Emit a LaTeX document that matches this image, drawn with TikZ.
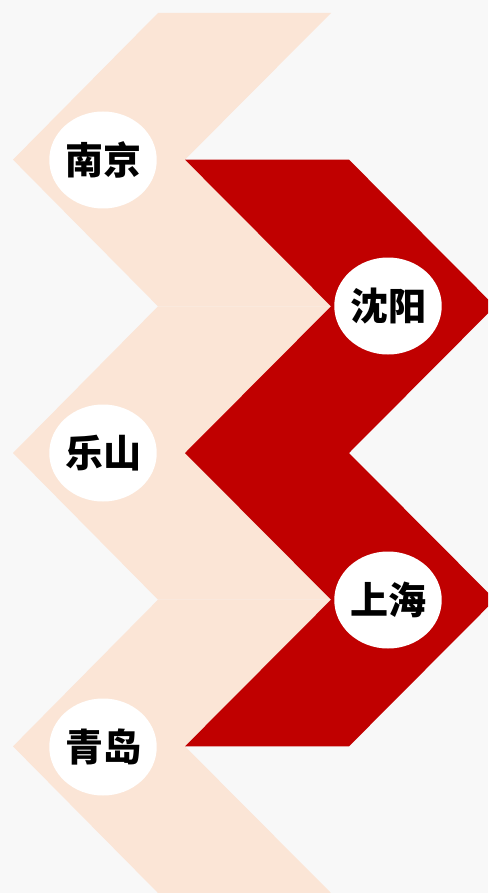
\documentclass[tikz,border=0pt]{standalone}
\usepackage{fontspec}
\newfontfamily\cjk{Noto Sans CJK SC}
\usetikzlibrary{shapes.geometric}
\definecolor{bgc}{HTML}{F8F8F8}
\definecolor{peach}{HTML}{FBE5D6}
\definecolor{redc}{HTML}{C00000}
\tikzset{
  peachshape/.style={fill=peach, draw=none},
  redshape/.style={fill=redc, draw=none},
  city/.style={ellipse, fill=white, draw=none, minimum width=106pt, minimum height=97pt, inner sep=0pt,
    font=\cjk\bfseries\fontsize{38}{38}\selectfont, text=black}
}
\begin{document}
\begin{tikzpicture}[x=1pt,y=-1pt]
\fill[bgc] (0,0) rectangle (488,893);
\useasboundingbox (0,0) rectangle (488,893);
\clip (0,0) rectangle (488,893);
% peach chevrons (pointing left)
\foreach \y in {13,306.33,599.67}{
  \fill[peachshape] (158,\y) -- (331,\y) -- (185,\y+146.67) -- (331,\y+293.33) -- (158,\y+293.33) -- (13,\y+146.67) -- cycle;
}
% red chevrons (pointing right)
\foreach \y in {159.67,453}{
  \fill[redshape] (185,\y) -- (349,\y) -- (495,\y+146.67) -- (349,\y+293.33) -- (185,\y+293.33) -- (331,\y+146.67) -- cycle;
}
\node[city] (nanjing) at (103,160) {南京};
\node[city] (shenyang) at (388,306) {沈阳};
\node[city] (leshan) at (103,453) {乐山};
\node[city] (shanghai) at (388,600) {上海};
\node[city] (qingdao) at (103,747) {青岛};
\end{tikzpicture}
\end{document}
